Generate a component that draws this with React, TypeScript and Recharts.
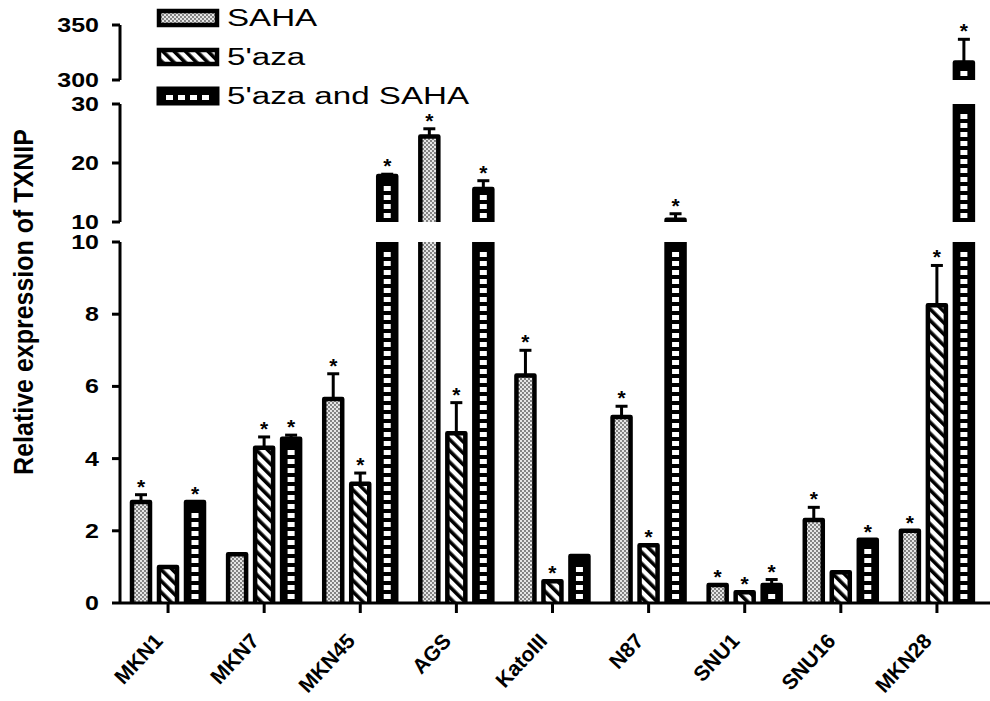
import React from 'react';
import { BarChart, Bar, XAxis, YAxis, ErrorBar, Legend } from 'recharts';

const categories = ['MKN1', 'MKN7', 'MKN45', 'AGS', 'KatoIII', 'N87', 'SNU1', 'SNU16', 'MKN28'];
const seriesNames = ['SAHA', "5'aza", "5'aza and SAHA"];

const sahaMean = [2.8, 1.35, 5.65, 24.5, 6.3, 5.15, 0.5, 2.3, 2.0];
const sahaSem = [0.2, 0, 0.7, 1.3, 0.7, 0.3, 0, 0.35, 0];
const sahaSig = [true, false, true, true, true, true, true, true, true];

const azaMean = [1.0, 4.3, 3.3, 4.7, 0.6, 1.6, 0.3, 0.85, 8.25];
const azaSem = [0, 0.3, 0.3, 0.85, 0, 0, 0, 0, 1.1];
const azaSig = [false, true, true, true, true, true, true, false, true];

const comboMean = [2.8, 4.55, 17.8, 15.6, 1.3, 10.4, 0.5, 1.75, 316];
const comboSem = [0, 0.1, 0.3, 1.4, 0, 1.0, 0.15, 0, 21];
const comboSig = [true, true, true, true, false, true, true, true, true];

const topTicks = [300, 350];
const midTicks = [10, 20, 30];
const lowTicks = [0, 2, 4, 6, 8, 10];

const FONT = '"Liberation Sans", Arial, sans-serif';

const series = [
  { key: 'saha', name: seriesNames[0], mean: sahaMean, sem: sahaSem, sig: sahaSig },
  { key: 'aza', name: seriesNames[1], mean: azaMean, sem: azaSem, sig: azaSig },
  { key: 'combo', name: seriesNames[2], mean: comboMean, sem: comboSem, sig: comboSig },
];

// rows for one segment of the broken axis: bars below the segment are dropped,
// bars above it are cut at the segment top
const buildRows = (lo: number, hi: number) =>
  categories.map((name, i) => {
    const row: Record<string, any> = { name };
    series.forEach((s) => {
      const v = s.mean[i];
      if (v <= lo) {
        row[s.key] = null;
        row[s.key + 'Err'] = null;
        return;
      }
      const cut = v > hi;
      row[s.key] = cut ? hi : v;
      row[s.key + 'Cut'] = cut;
      row[s.key + 'Err'] = !cut && s.sem[i] > 0 ? [0, s.sem[i]] : null;
      row[s.key + 'Sem'] = cut ? 0 : s.sem[i];
      row[s.key + 'Star'] = !cut && s.sig[i];
      row[s.key + 'Base'] = lo;
    });
    return row;
  });

const BarShape = (props: any) => {
  const { x, y, width, height, payload, kind } = props;
  if (height == null || height <= 0.01 || !payload) return null;
  const cut = payload[kind + 'Cut'];
  const left = x;
  const right = x + width;
  const top = y;
  const bottom = y + height;
  const outline = cut
    ? `M${left},${bottom} L${left},${top} M${right},${top} L${right},${bottom}`
    : `M${left},${bottom} L${left},${top} L${right},${top} L${right},${bottom}`;

  const squares: React.ReactNode[] = [];
  if (kind === 'combo') {
    for (let yy = bottom - 4; yy - 5 > top + 3; yy -= 9) {
      squares.push(<rect key={yy} x={x + width / 2 - 3.5} y={yy - 5} width={7} height={5} fill="#fff" />);
    }
  }
  const fill = kind === 'saha' ? 'url(#sahaDots)' : kind === 'aza' ? 'url(#azaHatch)' : '#000';

  let star = null;
  if (payload[kind + 'Star']) {
    const base = payload[kind + 'Base'];
    const ppu = height / (payload[kind] - base);
    const cy = top - payload[kind + 'Sem'] * ppu - 13;
    star = (
      <text x={x + width / 2} y={cy + 12} textAnchor="middle" fontSize={21} fontWeight="bold" fontFamily={FONT} fill="#000">
        *
      </text>
    );
  }

  return (
    <g>
      <rect x={x} y={y} width={width} height={height} fill={fill} />
      {squares}
      <path d={outline} fill="none" stroke="#000" strokeWidth={4.5} strokeLinejoin="round" />
      {star}
    </g>
  );
};

const YTick = (props: any) => {
  const { x, y, payload } = props;
  return (
    <text
      x={x}
      y={y}
      dy={7}
      textAnchor="end"
      fontSize={20}
      fontWeight="bold"
      fontFamily={FONT}
      fill="#000"
      transform={`translate(${x} ${y}) scale(1.25 1) translate(${-x} ${-y})`}
    >
      {payload.value}
    </text>
  );
};

const XTick = (props: any) => {
  const { x, y, payload } = props;
  return (
    <text
      transform={`translate(${x - 4} ${y + 25}) rotate(-47)`}
      textAnchor="end"
      fontSize={21}
      fontWeight="bold"
      fontFamily={FONT}
      fill="#000"
    >
      {payload.value}
    </text>
  );
};

const Swatch = ({ kind }: { kind: string }) => {
  if (kind === 'combo') {
    return (
      <svg width={64} height={20}>
        <rect x={2} y={2} width={60} height={16} fill="#000" stroke="#000" strokeWidth={3} />
        {[10, 22, 34, 46].map((sx) => (
          <rect key={sx} x={sx} y={9} width={7} height={5} fill="#fff" />
        ))}
      </svg>
    );
  }
  return (
    <svg width={64} height={20}>
      <rect
        x={3}
        y={3}
        width={58}
        height={14}
        fill={kind === 'saha' ? 'url(#sahaDots)' : 'url(#azaHatch)'}
        stroke="#000"
        strokeWidth={4.5}
      />
    </svg>
  );
};

const renderLegend = (props: any) => {
  const order = series.map((s) => s.key);
  const items = [...(props.payload || [])].sort(
    (a: any, b: any) => order.indexOf(a.dataKey) - order.indexOf(b.dataKey)
  );
  return (
    <div style={{ fontFamily: FONT }}>
      {items.map((it: any) => (
        <div key={it.value} style={{ display: 'flex', alignItems: 'center', height: 39 }}>
          <Swatch kind={it.dataKey} />
          <span
            style={{
              fontSize: 23,
              lineHeight: '18px',
              marginLeft: 7,
              display: 'inline-block',
              transform: 'scaleX(1.44)',
              transformOrigin: 'left center',
              whiteSpace: 'nowrap',
              color: '#000',
            }}
          >
            {it.value}
          </span>
        </div>
      ))}
    </div>
  );
};

const axisStroke = { stroke: '#000', strokeWidth: 3 };

const Panel = ({
  lo,
  hi,
  ticks,
  top,
  height,
  margin,
  showX,
  showLegend,
}: {
  lo: number;
  hi: number;
  ticks: number[];
  top: number;
  height: number;
  margin: { top: number; right: number; bottom: number; left: number };
  showX?: boolean;
  showLegend?: boolean;
}) => {
  const rows = buildRows(lo, hi);
  return (
    <div style={{ position: 'absolute', left: 0, top, width: 990, height }}>
      <BarChart width={990} height={height} data={rows} margin={margin} barSize={18} barGap={9}>
        <XAxis
          dataKey="name"
          hide={!showX}
          height={98}
          padding={{ left: 0, right: 5 }}
          axisLine={axisStroke}
          tickLine={axisStroke}
          tickSize={10}
          tickMargin={4}
          interval={0}
          tick={<XTick />}
        />
        <YAxis
          type="number"
          domain={[lo, hi]}
          ticks={ticks}
          width={120}
          axisLine={axisStroke}
          tickLine={axisStroke}
          tickSize={8}
          tickMargin={13}
          tick={<YTick />}
        />
        {showLegend && (
          <Legend
            layout="horizontal"
            verticalAlign="middle"
            align="center"
            content={renderLegend}
            wrapperStyle={{ left: 156, top: -2, width: 440, height: 117 }}
          />
        )}
        {series.map((s) => (
          <Bar
            key={s.key}
            dataKey={s.key}
            name={s.name}
            isAnimationActive={false}
            shape={(p: any) => <BarShape {...p} kind={s.key} />}
          >
            <ErrorBar dataKey={s.key + 'Err'} width={6} stroke="#000" strokeWidth={3} direction="y" />
          </Bar>
        ))}
      </BarChart>
    </div>
  );
};

export default function App() {
  return (
    <div style={{ position: 'absolute', left: 0, top: 0, width: 990, height: 701, background: '#fff', overflow: 'hidden' }}>
      <svg width={0} height={0} style={{ position: 'absolute' }}>
        <defs>
          <pattern id="sahaDots" patternUnits="userSpaceOnUse" width={4} height={4}>
            <rect width={4} height={4} fill="#e6e6e6" />
            <circle cx={1} cy={1} r={0.9} fill="#555" />
            <circle cx={3} cy={3} r={0.9} fill="#555" />
          </pattern>
          <pattern id="azaHatch" patternUnits="userSpaceOnUse" width={8} height={8} patternTransform="rotate(-45)">
            <rect width={8} height={8} fill="#fff" />
            <rect width={3.6} height={8} fill="#000" />
          </pattern>
        </defs>
      </svg>
      <svg width={60} height={701} style={{ position: 'absolute', left: 0, top: 0 }}>
        <text
          transform="translate(33 302) rotate(-90) scale(1 1.12)"
          textAnchor="middle"
          fontSize={25}
          fontWeight="bold"
          fontFamily={FONT}
          fill="#000"
        >
          Relative expression of TXNIP
        </text>
      </svg>
      <Panel lo={0} hi={10} ticks={lowTicks} top={230} height={471} margin={{ top: 12, right: 0, bottom: 0, left: 0 }} showX />
      <Panel lo={10} hi={30} ticks={midTicks} top={90} height={142} margin={{ top: 14, right: 0, bottom: 10, left: 0 }} />
      <Panel lo={300} hi={350} ticks={topTicks} top={0} height={90} margin={{ top: 25, right: 0, bottom: 10, left: 0 }} showLegend />
    </div>
  );
}
